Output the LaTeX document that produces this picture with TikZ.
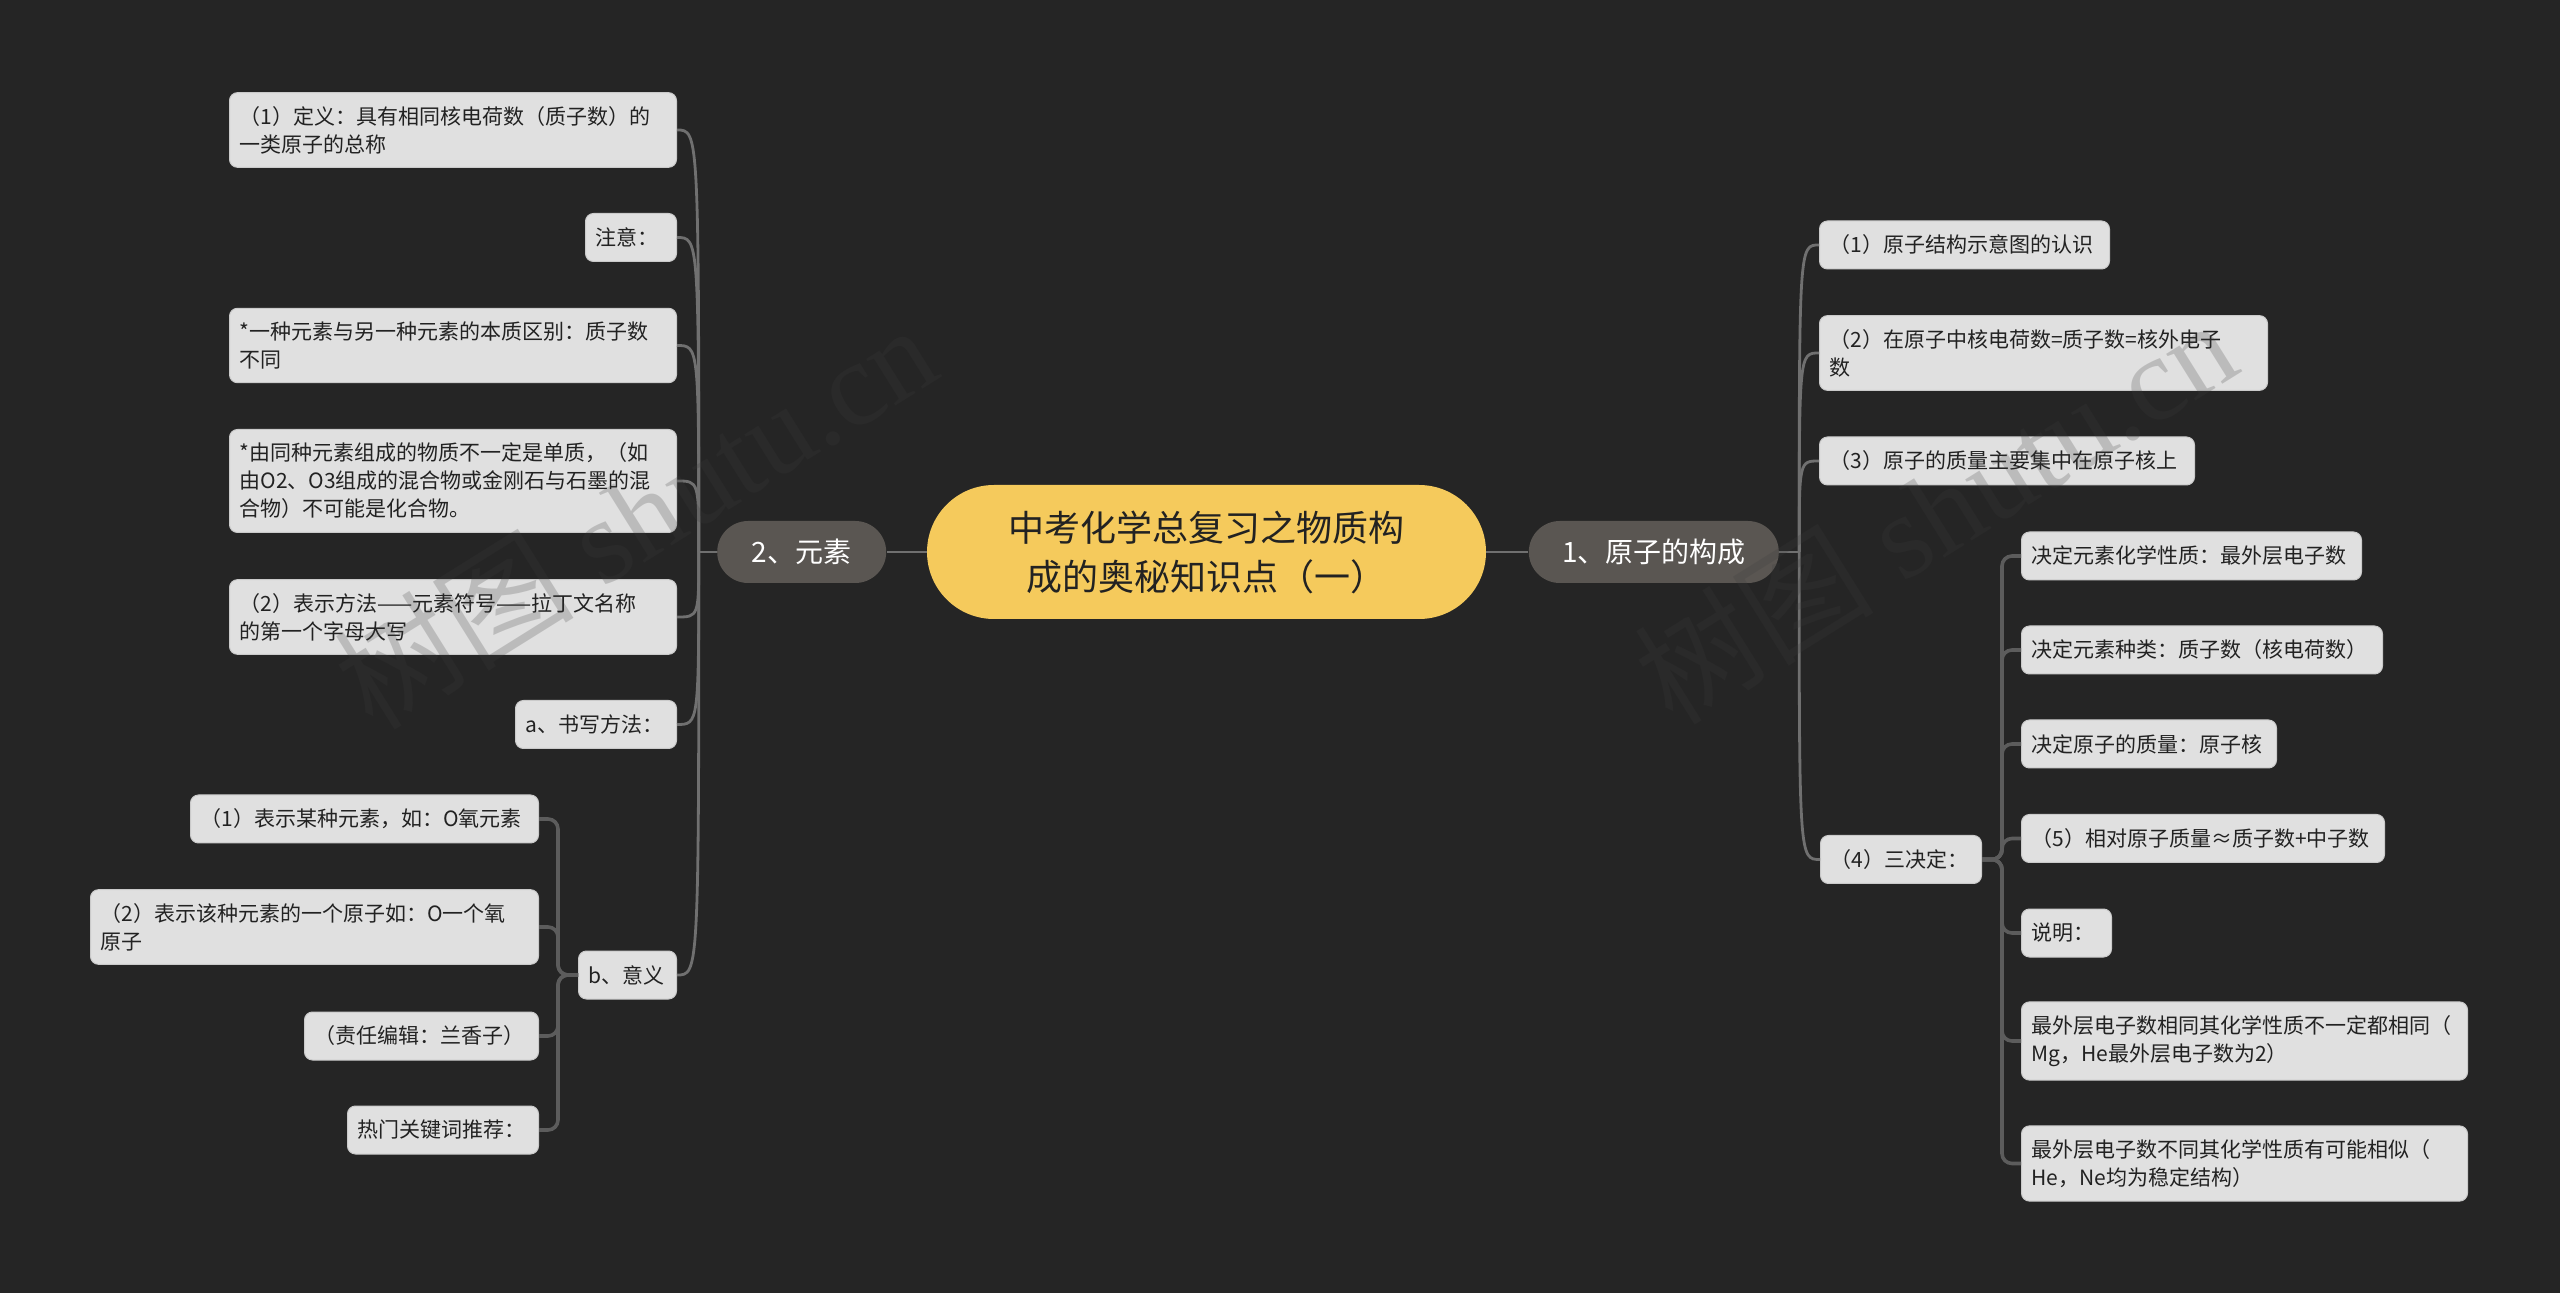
\documentclass[tikz,border=0pt]{standalone}
\usepackage{fontspec}
\newfontfamily\cjk{Noto Sans CJK SC}
\newfontfamily\wmserif{Liberation Serif}
\usetikzlibrary{positioning}

\definecolor{bgdark}{HTML}{252525}
\definecolor{boxgrey}{HTML}{E0E0E0}
\definecolor{boxedge}{HTML}{CACACA}
\definecolor{pillgrey}{HTML}{5A5652}
\definecolor{sunyellow}{HTML}{F5CA5C}
\definecolor{inkdark}{HTML}{222222}
\definecolor{linegrey}{HTML}{707070}
\definecolor{bracketgrey}{HTML}{5C5C5C}
\definecolor{wmgrey}{HTML}{3C3C3C}

\begin{document}
\begin{tikzpicture}[
      x=0.5pt, y=-0.5pt,
      centre/.style={rectangle, fill=sunyellow, rounded corners=33.5pt,
      minimum width=279.5pt, minimum height=67pt, align=center,
      text=inkdark, font={\cjk\fontsize{18}{24.5}\selectfont}},
      pill/.style={rectangle, fill=pillgrey, rounded corners=15.5pt,
      minimum height=31pt, text=white, font={\cjk\fontsize{14}{16}\selectfont}},
      leaf/.style={rectangle, fill=boxgrey, draw=boxedge, line width=0.5pt,
      rounded corners=4pt, align=left, text=inkdark, inner xsep=5pt,
      inner ysep=6.75pt, minimum height=24pt,
      font={\cjk\fontsize{10.5}{14}\selectfont}},
      conn/.style={draw=linegrey, line width=1.4pt},
      bracket/.style={draw=bracketgrey, line width=1.8pt, rounded corners=5pt},
      wmark/.style={text=wmgrey, text opacity=0.22, rotate=32,
      font={\wmserif\fontsize{60}{60}\selectfont}}
    ]
    \path[use as bounding box, fill=bgdark] (0,0) rectangle (2560,1293);

    % Nodes
    \node [centre] (hub) at (1206.5,552) {中考化学总复习之物质构\\成的奥秘知识点（一）};
    \node [pill, minimum width=84.5pt, left=20pt of hub] (elem) {2、元素};
    \node [pill, minimum width=125pt, right=21pt of hub] (atom) {1、原子的构成};

    \node [leaf, text width=213.5pt, anchor=east] (defn) at (677,130)
      {（1）定义：具有相同核电荷数（质子数）的\\一类原子的总称};
    \node [leaf, text width=35.5pt, anchor=east] (note) at (677,237.5) {注意：};
    \node [leaf, text width=213.5pt, anchor=east] (diff) at (677,345.5)
      {*一种元素与另一种元素的本质区别：质子数\\不同};
    \node [leaf, text width=213.5pt, anchor=east] (same) at (677,481)
      {*由同种元素组成的物质不一定是单质，（如\\由O2、O3组成的混合物或金刚石与石墨的混\\合物）不可能是化合物。};
    \node [leaf, text width=213.5pt, anchor=east] (symb) at (677,617)
      {（2）表示方法——元素符号——拉丁文名称\\的第一个字母大写};
    \node [leaf, text width=70.5pt, anchor=east] (write) at (677,724.5) {a、书写方法：};
    \node [leaf, text width=39pt, anchor=east] (mean) at (677,975) {b、意义};

    \node [leaf, text width=164pt, anchor=east] (mean1) at (539,819)
      {（1）表示某种元素，如：O氧元素};
    \node [leaf, text width=214pt, anchor=east] (mean2) at (539,927)
      {（2）表示该种元素的一个原子如：O一个氧\\原子};
    \node [leaf, text width=107pt, anchor=east] (editor) at (539,1036) {（责任编辑：兰香子）};
    \node [leaf, text width=85.5pt, anchor=east] (hot) at (539,1130) {热门关键词推荐：};

    \node [leaf, text width=135pt, anchor=west] (sketch) at (1819,245)
      {（1）原子结构示意图的认识};
    \node [leaf, text width=214pt, anchor=west] (charge) at (1819,353)
      {（2）在原子中核电荷数=质子数=核外电子\\数};
    \node [leaf, text width=177.5pt, anchor=west] (mass) at (1819,461)
      {（3）原子的质量主要集中在原子核上};
    \node [leaf, text width=70.5pt, anchor=west] (three) at (1820,859.5) {（4）三决定：};

    \node [leaf, text width=160pt, anchor=west] (dprop) at (2021,556)
      {决定元素化学性质：最外层电子数};
    \node [leaf, text width=170.5pt, anchor=west] (dkind) at (2021,650)
      {决定元素种类：质子数（核电荷数）};
    \node [leaf, text width=117.5pt, anchor=west] (dmass) at (2021,744)
      {决定原子的质量：原子核};
    \node [leaf, text width=171.5pt, anchor=west] (relmass) at (2021,838.5)
      {（5）相对原子质量≈质子数+中子数};
    \node [leaf, text width=35pt, anchor=west] (remark) at (2021,933) {说明：};
    \node [leaf, text width=213pt, anchor=west] (outsame) at (2021,1041)
      {最外层电子数相同其化学性质不一定都相同（\\Mg，He最外层电子数为2）};
    \node [leaf, text width=213pt, anchor=west] (outdiff) at (2021,1163.5)
      {最外层电子数不同其化学性质有可能相似（\\He，Ne均为稳定结构）};

    % Paths
    \path [conn] (hub) -- (elem);
    \path [conn] (hub) -- (atom);

    \path [conn] (elem.west) -- ++(-9pt,0) coordinate (elemhub);
    \path [conn] (elemhub) .. controls (elemhub |- defn.east) and (elemhub |- defn.east) .. (defn.east);
    \path [conn] (elemhub) .. controls (elemhub |- note.east) and (elemhub |- note.east) .. (note.east);
    \path [conn] (elemhub) .. controls (elemhub |- diff.east) and (elemhub |- diff.east) .. (diff.east);
    \path [conn] (elemhub) .. controls (elemhub |- same.east) and (elemhub |- same.east) .. (same.east);
    \path [conn] (elemhub) .. controls (elemhub |- symb.east) and (elemhub |- symb.east) .. (symb.east);
    \path [conn] (elemhub) .. controls (elemhub |- write.east) and (elemhub |- write.east) .. (write.east);
    \path [conn] (elemhub) .. controls (elemhub |- mean.east) and (elemhub |- mean.east) .. (mean.east);

    \path [bracket] (mean.west) -- ++(-10pt,0) |- (mean1.east);
    \path [bracket] (mean.west) -- ++(-10pt,0) |- (mean2.east);
    \path [bracket] (mean.west) -- ++(-10pt,0) |- (editor.east);
    \path [bracket] (mean.west) -- ++(-10pt,0) |- (hot.east);

    \path [conn] (atom.east) -- ++(10pt,0) coordinate (atomhub);
    \path [conn] (atomhub) .. controls (atomhub |- sketch.west) and (atomhub |- sketch.west) .. (sketch.west);
    \path [conn] (atomhub) .. controls (atomhub |- charge.west) and (atomhub |- charge.west) .. (charge.west);
    \path [conn] (atomhub) .. controls (atomhub |- mass.west) and (atomhub |- mass.west) .. (mass.west);
    \path [conn] (atomhub) .. controls (atomhub |- three.west) and (atomhub |- three.west) .. (three.west);

    \path [bracket] (three.east) -- ++(10pt,0) |- (dprop.west);
    \path [bracket] (three.east) -- ++(10pt,0) |- (dkind.west);
    \path [bracket] (three.east) -- ++(10pt,0) |- (dmass.west);
    \path [bracket] (three.east) -- ++(10pt,0) |- (relmass.west);
    \path [bracket] (three.east) -- ++(10pt,0) |- (remark.west);
    \path [bracket] (three.east) -- ++(10pt,0) |- (outsame.west);
    \path [bracket] (three.east) -- ++(10pt,0) |- (outdiff.west);

    % Watermarks
    \node [wmark] (wmleft) at (635,515) {{\cjk 树图} shutu.cn};
    \node [wmark] (wmright) at (1935,510) {{\cjk 树图} shutu.cn};
  \end{tikzpicture}
\end{document}
